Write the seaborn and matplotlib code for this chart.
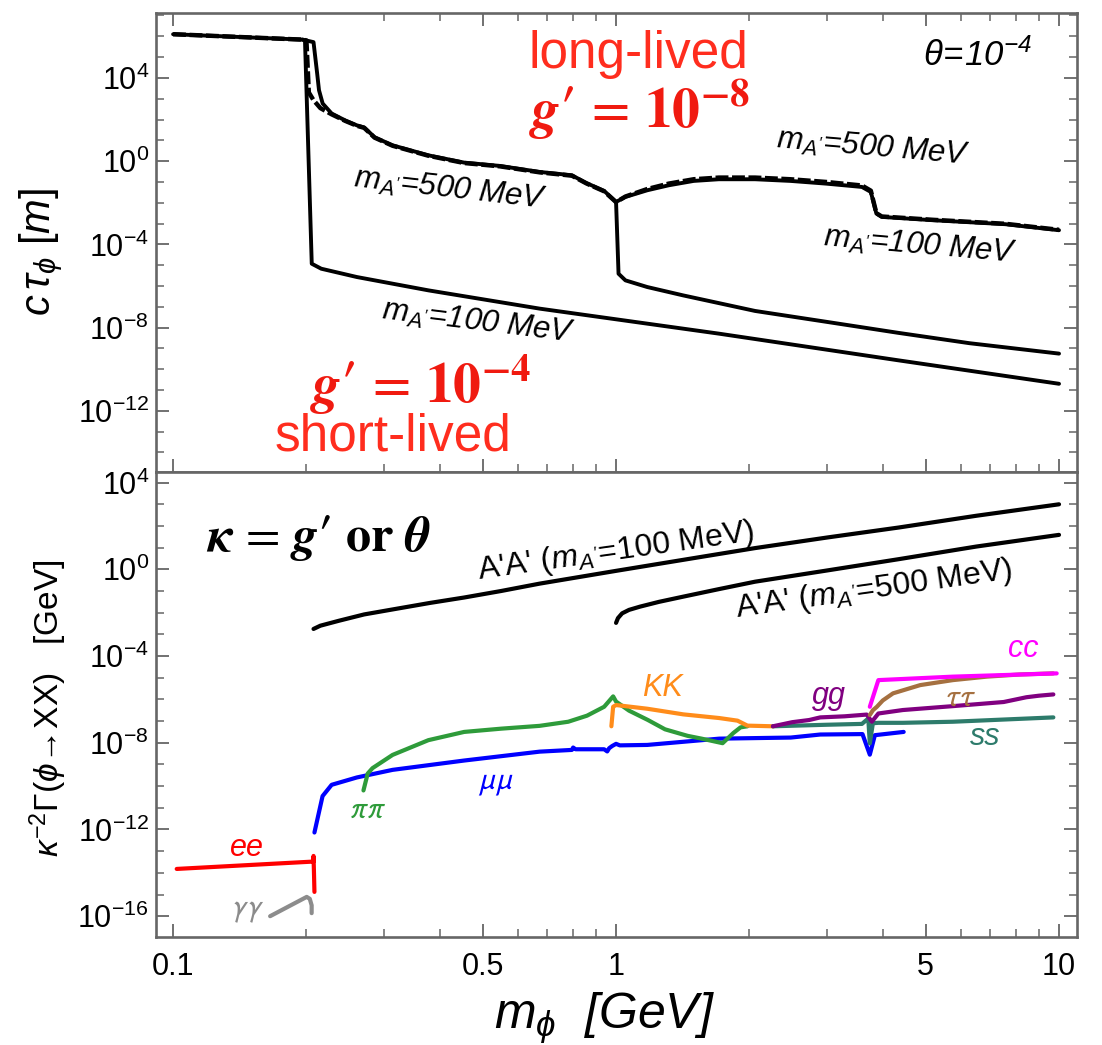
import numpy as np
import pandas as pd
import matplotlib
matplotlib.use("Agg")
import matplotlib.pyplot as plt
import seaborn as sns
from matplotlib.ticker import FixedLocator, FuncFormatter, NullFormatter

sns.set_theme(style="ticks")
plt.rcParams['font.family'] = ['Liberation Sans', 'DejaVu Sans']
plt.rcParams['text.color'] = 'black'
plt.rcParams['axes.labelcolor'] = 'black'
plt.rcParams['mathtext.fontset'] = 'custom'
plt.rcParams['mathtext.rm'] = 'Liberation Sans'
plt.rcParams['mathtext.it'] = 'Liberation Sans:italic'
plt.rcParams['mathtext.bf'] = 'Liberation Sans:bold'
plt.rcParams['mathtext.sf'] = 'Liberation Sans'
plt.rcParams['mathtext.fallback'] = 'stixsans'

# ---------------- data (log10 of values) ----------------
# top panel: c*tau [m]
longA_m = [0.1, 0.196, 0.2075, 0.2115, 0.2135, 0.2176, 0.228, 0.245, 0.26, 0.27, 0.285, 0.313,
           0.377, 0.454, 0.547, 0.673, 0.748, 0.795, 0.857, 0.94, 1.0, 1.05, 1.176, 1.315, 1.497,
           1.706, 2.06, 2.476, 2.98, 3.59, 3.76, 3.87, 3.98, 5.2, 7.56, 10.0]
longA_log = [6.10, 5.84, 5.72, 4.2, 3.41, 2.77, 2.29, 1.95, 1.72, 1.62, 1.15, 0.76,
             0.28, -0.07, -0.23, -0.52, -0.62, -0.68, -1.05, -1.43, -1.96, -1.72, -1.40, -1.16, -0.95,
             -0.87, -0.87, -0.95, -1.08, -1.24, -1.48, -2.52, -2.68, -2.84, -3.03, -3.32]

longB_m = [0.1, 0.196, 0.2, 0.2025, 0.2075, 0.215, 0.228, 0.245, 0.26, 0.27, 0.285, 0.313,
           0.377, 0.454, 0.547, 0.673, 0.748, 0.795, 0.857, 0.94, 1.0, 1.05, 1.176, 1.315, 1.497,
           1.706, 2.06, 2.476, 2.98, 3.59, 3.76, 3.87, 3.98, 5.2, 7.56, 10.0]
longB_log = [6.10, 5.84, 5.80, 3.3, 2.93, 2.55, 2.25, 1.93, 1.70, 1.60, 1.13, 0.74,
             0.26, -0.09, -0.25, -0.54, -0.64, -0.70, -1.07, -1.45, -1.97, -1.70, -1.34, -1.08, -0.87,
             -0.79, -0.79, -0.87, -1.00, -1.17, -1.42, -2.50, -2.66, -2.82, -3.01, -3.30]

shortC_m = [0.196, 0.1985, 0.2056, 0.216, 0.26, 0.377, 0.673, 1.706, 4.33, 10.0]
shortC_log = [5.84, 5.80, -4.93, -5.17, -5.57, -6.21, -7.09, -8.29, -9.57, -10.7]

shortD_m = [1.0, 1.013, 1.05, 1.176, 1.416, 2.06, 2.98, 4.33, 6.28, 10.0]
shortD_log = [-1.96, -5.41, -5.73, -6.05, -6.45, -7.2, -7.72, -8.25, -8.75, -9.25]

# bottom panel: kappa^-2 Gamma [GeV]
aa100_m = [0.2075, 0.215, 0.237, 0.27, 0.313, 0.38, 0.454, 0.55, 0.672, 1.0, 1.5, 2.06, 3.0, 4.35, 6.5, 10.0]
aa100_log = [-2.75, -2.6, -2.37, -2.08, -1.85, -1.55, -1.3, -1.0, -0.66, -0.07, 0.52, 0.98, 1.47, 1.93, 2.47, 3.0]

aa500_m = [1.0, 1.01, 1.032, 1.07, 1.133, 1.25, 1.418, 1.7, 2.06, 3.0, 4.35, 6.5, 10.0]
aa500_log = [-2.47, -2.25, -2.03, -1.87, -1.72, -1.5, -1.26, -0.92, -0.57, -0.05, 0.47, 1.05, 1.59]

ee_m = [0.1019, 0.2075, 0.2075, 0.208, 0.2085]
ee_log = [-13.82, -13.48, -13.22, -14.0, -14.88]

gam_m = [0.1656, 0.2003, 0.2035, 0.2055, 0.2055]
gam_log = [-16.0, -15.11, -15.2, -15.5, -15.86]

mumu_m = [0.2085, 0.2175, 0.228, 0.26, 0.313, 0.454, 0.672, 0.795, 0.80, 0.81, 0.94, 0.955,
          0.965, 0.98, 1.0, 1.02, 1.176, 1.71, 2.48, 2.89, 3.6, 3.74, 3.84, 4.46]
mumu_log = [-12.14, -10.46, -9.94, -9.6, -9.25, -8.82, -8.41, -8.33, -8.22, -8.3, -8.3, -8.4,
            -8.25, -8.15, -8.05, -8.12, -8.1, -7.81, -7.76, -7.62, -7.6, -8.55, -7.65, -7.5]

pipi_m = [0.269, 0.275, 0.282, 0.313, 0.377, 0.454, 0.55, 0.672, 0.78, 0.86, 0.94, 0.985, 1.0, 1.07,
          1.18, 1.29, 1.45, 1.56, 1.74, 1.84, 1.91, 1.98]
pipi_log = [-10.2, -9.42, -9.17, -8.56, -7.88, -7.5, -7.35, -7.22, -7.03, -6.75, -6.34, -5.86, -6.1, -6.52,
            -6.95, -7.38, -7.68, -7.81, -8.02, -7.55, -7.29, -7.24]

kk_m = [0.976, 0.985, 1.0, 1.176, 1.418, 1.71, 1.88, 1.98, 2.26]
kk_log = [-7.24, -6.34, -6.26, -6.43, -6.69, -6.86, -6.98, -7.21, -7.24]

gg_m = [2.26, 2.5, 2.73, 2.89, 3.28, 3.68, 3.78, 3.91, 4.44, 5.76, 7.5, 8.0, 8.44, 9.0, 9.71]
gg_log = [-7.24, -7.05, -6.95, -6.83, -6.78, -6.70, -7.03, -6.65, -6.49, -6.31, -6.12, -6.0, -5.9, -5.83, -5.77]

ss_m = [2.26, 2.98, 3.59, 3.71, 3.74, 3.80, 3.91, 4.44, 5.76, 9.71]
ss_log = [-7.24, -7.17, -7.13, -6.88, -8.03, -7.1, -7.08, -7.08, -7.03, -6.83]

cc_m = [3.74, 3.91, 5.76, 9.88]
cc_log = [-6.34, -5.11, -4.95, -4.80]

tautau_m = [3.74, 3.8, 3.88, 4.0, 4.22, 4.86, 5.76, 6.87, 8.16, 9.7]
tautau_log = [-6.72, -6.5, -6.34, -6.05, -5.72, -5.34, -5.11, -4.95, -4.85, -4.80]

x_major = [0.1, 0.5, 1, 5, 10]
x_major_labels = ["0.1", "0.5", "1", "5", "10"]
x_minor = [0.2, 0.3, 0.4, 0.6, 0.7, 0.8, 0.9, 2, 3, 4, 6, 7, 8, 9]

# ---------------- figure ----------------
W, H = 1102, 1045
fig = plt.figure(figsize=(W / 100, H / 100), dpi=100)
L, R = 156, 1077
ax1 = fig.add_axes([L / W, 1 - 472 / H, (R - L) / W, (472 - 13) / H])
ax2 = fig.add_axes([L / W, 1 - 937 / H, (R - L) / W, (937 - 472) / H])


def line(ax, m, lg, color, lw=3.0, ls='-'):
    df = pd.DataFrame({'m': m, 'v': 10.0 ** np.asarray(lg, dtype=float)})
    sns.lineplot(data=df, x='m', y='v', ax=ax, color=color, linewidth=lw, linestyle=ls,
                 estimator=None, sort=False, legend=False)


line(ax1, longB_m, longB_log, 'black', 3.2, (0, (2.9, 0.8)))
line(ax1, longA_m, longA_log, 'black', 2.8)
line(ax1, shortC_m, shortC_log, 'black', 2.8)
line(ax1, shortD_m, shortD_log, 'black', 2.8)

line(ax2, aa100_m, aa100_log, 'black', 3.0)
line(ax2, aa500_m, aa500_log, 'black', 3.0)
line(ax2, ee_m, ee_log, '#ff0000', 3.0)
line(ax2, gam_m, gam_log, '#8c8c8c', 3.0)
line(ax2, mumu_m, mumu_log, '#0000ff', 3.0)
line(ax2, pipi_m, pipi_log, '#2e9b3a', 3.0)
line(ax2, kk_m, kk_log, '#ff8c1a', 3.0)
line(ax2, ss_m, ss_log, '#2d7b6b', 3.0)
line(ax2, gg_m, gg_log, '#800080', 3.0)
line(ax2, tautau_m, tautau_log, '#a57040', 3.0)
line(ax2, cc_m, cc_log, '#ff00ff', 3.0)

FRAME = '#666666'
fmt = FuncFormatter(lambda v, p: r"$\mathregular{10^{%d}}$" % int(round(np.log10(v))))
for ax, (ylo, yhi), majors in [(ax1, (-14.94, 7.12), range(-12, 5, 4)),
                               (ax2, (-16.96, 4.49), range(-16, 5, 4))]:
    ax.set_xscale('log')
    ax.set_yscale('log')
    ax.set_xlim(0.0915, 10.98)
    ax.set_ylim(10 ** ylo, 10 ** yhi)
    ax.set_xlabel('')
    ax.set_ylabel('')
    for s in ax.spines.values():
        s.set_color(FRAME)
        s.set_linewidth(1.9)
    ax.xaxis.set_major_locator(FixedLocator(x_major))
    ax.xaxis.set_minor_locator(FixedLocator(x_minor))
    ax.xaxis.set_major_formatter(FuncFormatter(lambda v, p: x_major_labels[p] if p is not None and p < len(x_major_labels) else ''))
    ax.xaxis.set_minor_formatter(NullFormatter())
    ax.yaxis.set_major_locator(FixedLocator([10.0 ** k for k in majors]))
    ax.yaxis.set_minor_locator(FixedLocator([10.0 ** k for k in range(int(np.ceil(ylo)), int(np.floor(yhi)) + 1)
                                             if k not in majors]))
    ax.yaxis.set_major_formatter(fmt)
    ax.yaxis.set_minor_formatter(NullFormatter())
    ax.tick_params(which='both', direction='in', color=FRAME, labelcolor='black',
                   labelsize=22, right=True, left=True, bottom=True)
    ax.tick_params(which='major', length=9.5, width=1.3)
    ax.tick_params(which='minor', length=5.5, width=1.1)
    ax.tick_params(axis='y', pad=5)
    ax.tick_params(axis='x', pad=11)
    ax.set_facecolor('white')

ax1.tick_params(which='both', top=True, labelbottom=False)
ax2.tick_params(which='both', top=False)


def ptxt(x, y, s, **kw):
    kw.setdefault('ha', 'center')
    kw.setdefault('va', 'center')
    kw.setdefault('rotation_mode', 'anchor')
    kw.setdefault('color', 'black')
    fig.text(x / W, 1 - y / H, s, **kw)


RED = '#ff2d1e'
RED2 = '#f01a10'
# top panel texts
ptxt(638, 55, "long-lived", color=RED, fontsize=37)
ptxt(640, 110, r"$\mathbfit{g}\mathbf{\prime}\,=\,\mathbf{10^{-8}}$", color=RED2, fontsize=40, math_fontfamily='stix')
ptxt(977, 56, r"$\mathregular{\theta\!=\!10^{-4}}$", fontsize=25, style='italic')
ptxt(450, 190, r"$m_{A'}$=500 MeV", fontsize=22.5, style='italic', rotation=-6.5)
ptxt(478, 322, r"$m_{A'}$=100 MeV", fontsize=22.5, style='italic', rotation=-7)
ptxt(873, 148, r"$m_{A'}$=500 MeV", fontsize=22.5, style='italic', rotation=-5)
ptxt(920, 246, r"$m_{A'}$=100 MeV", fontsize=22.5, style='italic', rotation=-5)
ptxt(421, 385, r"$\mathbfit{g}\mathbf{\prime}\,=\,\mathbf{10^{-4}}$", color=RED2, fontsize=40, math_fontfamily='stix')
ptxt(393, 437, "short-lived", color=RED, fontsize=37)

# bottom panel texts
ptxt(319, 538, r"$\mathbfit{\kappa}\,=\,\mathbfit{g}\mathbf{\prime}\ \mathbf{or}\ \mathbfit{\theta}$", fontsize=36,
     math_fontfamily='stix')
ptxt(616, 552, r"A'A' ($m_{A'}$=100 MeV)", fontsize=23, rotation=8)
ptxt(874, 590, r"A'A' ($m_{A'}$=500 MeV)", fontsize=23, rotation=8)
ptxt(1023, 649, "cc", color='#ff00ff', fontsize=22, style='italic')
ptxt(662, 688, "KK", color='#ff8c1a', fontsize=22, style='italic')
ptxt(829, 696, "gg", color='#800080', fontsize=22, style='italic')
ptxt(961, 698, r"$\tau\tau$", color='#a57040', fontsize=22, math_fontfamily='stixsans')
ptxt(985, 737, "ss", color='#2d7b6b', fontsize=22, style='italic')
ptxt(496, 783, r"$\mu\mu$", color='#0000ff', fontsize=22, math_fontfamily='stixsans')
ptxt(368, 810, r"$\pi\pi$", color='#2e9b3a', fontsize=22, math_fontfamily='stixsans')
ptxt(247, 848, "ee", color='#ff0000', fontsize=22, style='italic')
ptxt(248, 910, r"$\gamma\gamma$", color='#8c8c8c', fontsize=22, math_fontfamily='stixsans')

# axis labels
ptxt(605, 1018, r"$m_{\phi}$  [GeV]", fontsize=36, style='italic')
ptxt(41, 252, r"$c\,\tau_{\phi}\ [m]$", fontsize=30, rotation=90)
ptxt(48, 708, r"$\kappa^{-2}\mathit{\Gamma}(\phi\!\rightarrow\!\mathrm{XX})$   [GeV]", fontsize=24, rotation=90)

fig.savefig("out.png", dpi=100, facecolor='white')
